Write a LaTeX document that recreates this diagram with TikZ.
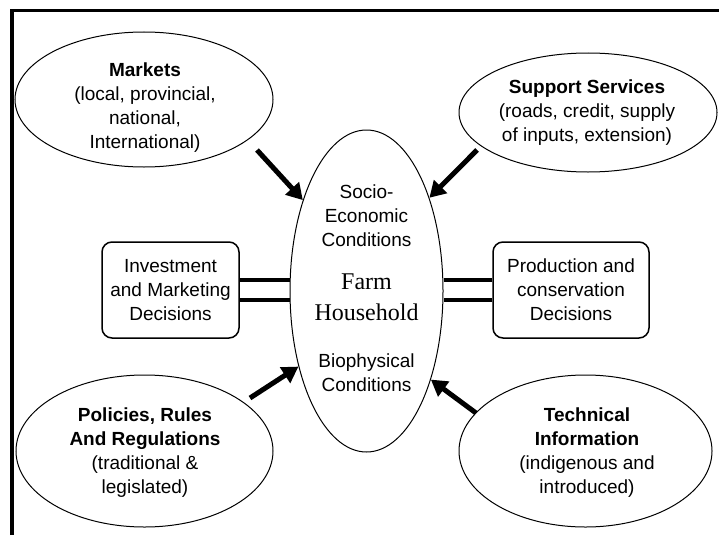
\documentclass[tikz,border=0pt]{standalone}
\usepackage{fontspec}
\setmainfont{Liberation Sans}
\newfontfamily\timesfont{Liberation Serif}
\usetikzlibrary{arrows.meta,shapes.geometric}
\begin{document}
\begin{tikzpicture}
      [x=1pt,y=-1pt,
      bubble/.style={ellipse,draw,line width=1pt,inner sep=0pt},
      txt/.style={align=center,inner sep=0pt,font=\fontsize{19}{24}\selectfont},
      box/.style={rectangle,draw,rounded corners=10pt,line width=1.5pt,inner sep=0pt,
        align=center,font=\fontsize{19}{24}\selectfont},
      push/.style={line width=5pt,-{Triangle[length=16pt,width=18pt]}},
      link/.style={line width=4pt}]
      \useasboundingbox (0,0) rectangle (719,535);
      \draw[line width=3.5pt] (12,535) -- (12,10.5) -- (719,10.5);
      % outer factors
      \node[bubble,minimum width=258,minimum height=135] (mkt) at (144,99.5) {};
      \node[bubble,minimum width=258,minimum height=119] (sup) at (588,112.5) {};
      \node[bubble,minimum width=257,minimum height=152] (pol) at (144.5,451) {};
      \node[bubble,minimum width=253,minimum height=152] (tec) at (585.5,451) {};
      \node[txt] (mkttxt) at (145,108) {\textbf{Markets}\\(local, provincial,\\national,\\International)};
      \node[txt] (suptxt) at (587,112.6) {\textbf{Support Services}\\(roads, credit, supply\\of inputs, extension)};
      \node[txt] (poltxt) at (145,452.7) {\textbf{Policies, Rules}\\\textbf{And Regulations}\\(traditional \&\\legislated)};
      \node[txt] (tectxt) at (587,452.7) {\textbf{Technical}\\\textbf{Information}\\(indigenous and\\introduced)};
      % household
      \node[bubble,minimum width=153,minimum height=322] (hh) at (366.5,291) {};
      \node[txt] (soc) at (366.5,215.7) {Socio-\\Economic\\Conditions};
      \node[align=center,inner sep=0pt,font=\timesfont\fontsize{24}{31}\selectfont] (farm) at (366.5,297.5) {Farm\\Household};
      \node[txt] (bio) at (366.5,373) {Biophysical\\Conditions};
      % decisions
      \node[box,minimum width=137,minimum height=96] (inv) at (170.5,290) {Investment\\and Marketing\\Decisions};
      \node[box,minimum width=156,minimum height=96] (prod) at (571,290) {Production and\\conservation\\Decisions};
      \coordinate (invup) at ([yshift=10pt]inv.east);
      \coordinate (invdn) at ([yshift=-10pt]inv.east);
      \coordinate (produp) at ([yshift=10pt]prod.west);
      \coordinate (proddn) at ([yshift=-10pt]prod.west);
      \path (invup) edge[link] (invup -| hh.west);
      \path (invdn) edge[link] (invdn -| hh.west);
      \path (produp) edge[link] (produp -| hh.east);
      \path (proddn) edge[link] (proddn -| hh.east);
      % influences
      \coordinate (mktout) at (257,150);
      \coordinate (supout) at (477,150);
      \coordinate (polout) at (250,398);
      \coordinate (tecout) at (476,413);
      \path (mktout) edge[push] (hh.125);
      \path (supout) edge[push] (hh.56);
      \path (polout) edge[push] (hh.228);
      \path (tecout) edge[push] (hh.306);
\end{tikzpicture}
\end{document}
